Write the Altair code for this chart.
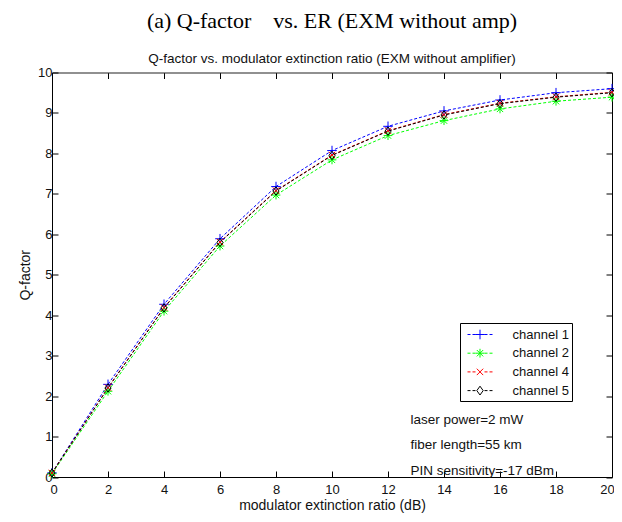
import altair as alt
import pandas as pd

# ---- data ----
er_db = [0, 2, 4, 6, 8, 10, 12, 14, 16, 18, 20]
channels = ["channel 1", "channel 2", "channel 4", "channel 5"]
q_ch1 = [0.10, 2.29, 4.27, 5.89, 7.18, 8.07, 8.67, 9.05, 9.32, 9.50, 9.60]
q_ch2 = [0.08, 2.12, 4.10, 5.71, 6.97, 7.84, 8.44, 8.81, 9.10, 9.29, 9.39]
q_ch4 = [0.10, 2.21, 4.19, 5.81, 7.08, 7.96, 8.56, 8.96, 9.24, 9.40, 9.51]
q_ch5 = [0.10, 2.20, 4.18, 5.80, 7.07, 7.95, 8.55, 8.95, 9.23, 9.39, 9.50]
x_ticks = [0, 2, 4, 6, 8, 10, 12, 14, 16, 18, 20]
y_ticks = [0, 1, 2, 3, 4, 5, 6, 7, 8, 9, 10]
ann_text = ["laser power=2 mW", "fiber length=55 km", "PIN sensitivity=-17 dBm"]
ann_x = [12.8, 12.8, 12.8]
ann_y = [1.40, 0.78, 0.14]

colors = ["#0000ff", "#00ff00", "#ff0000", "#000000"]

rows = []
for name, vals in zip(channels, [q_ch1, q_ch2, q_ch4, q_ch5]):
    for xv, yv in zip(er_db, vals):
        rows.append({"er": xv, "q": yv, "channel": name})
df = pd.DataFrame(rows)
ann = pd.DataFrame({"x": ann_x, "y": ann_y, "t": ann_text})

# ---- marker paths (style) ----
def plus(h):
    return f"M{-h:.3f},0H{h:.3f}M0,{-h:.3f}V{h:.3f}"

def cross(h):
    return f"M{-h:.3f},{-h:.3f}L{h:.3f},{h:.3f}M{-h:.3f},{h:.3f}L{h:.3f},{-h:.3f}"

def star(h):
    return plus(h) + cross(h * 0.72)

def diamond(h):
    w = 0.72 * h
    return f"M0,{-h:.3f}L{w:.3f},0L0,{h:.3f}L{-w:.3f},0Z"

# points: size 64 -> 4 px per unit
pt_paths = [plus(1.2), star(1.1), cross(0.8), diamond(1.05)]

# legend symbols: size 256 -> 8 px per unit; dashed line + marker
def dashes():
    segs = [(-12.5, -9.5), (-7.5, -4.5), (4.5, 7.5), (9.5, 12.5)]
    return "".join(f"M{a/8:.4f},0H{b/8:.4f}" for a, b in segs)

lg_paths = [dashes() + plus(0.6), dashes() + star(0.55), dashes() + cross(0.4), dashes() + diamond(0.55)]

FONT = "Liberation Sans"
TXT = "#111111"

xs = alt.Scale(domain=[0, 20], nice=False, zero=False)
ys = alt.Scale(domain=[0, 10], nice=False, zero=False)
cs = alt.Scale(domain=channels, range=colors)

inward = alt.ExprRef(expr="-6")

x_bottom = alt.Axis(values=x_ticks, title="modulator extinction ratio (dB)", grid=False,
                    tickSize=inward, tickColor="black", domainColor="black",
                    labelFont=FONT, labelFontSize=13, labelColor=TXT, labelFlush=False,
                    labelOverlap=False, labelPadding=12,
                    labelOffset=alt.ExprRef(expr="datum.value == 20 ? -5 : (datum.value == 0 ? 1.5 : 0)"),
                    titleFont=FONT, titleFontSize=14,
                    titleFontWeight="normal", titleColor=TXT, titlePadding=2)
y_left = alt.Axis(values=y_ticks, title="Q-factor", grid=False,
                  tickSize=inward, tickColor="black", domainColor="black",
                  labelFont=FONT, labelFontSize=13, labelColor=TXT, labelPadding=6,
                  labelOverlap=False, titleFont=FONT, titleFontSize=14,
                  titleFontWeight="normal", titleColor=TXT, titlePadding=5)
x_top = alt.Axis(values=x_ticks, orient="top", labels=False, title=None, grid=False,
                 tickSize=inward, tickColor="black", domainColor="#333333")
y_right = alt.Axis(values=y_ticks, orient="right", labels=False, title=None, grid=False,
                   tickSize=inward, tickColor="black", domainColor="black")

base = alt.Chart(df)

lines = base.mark_line(strokeDash=[3, 2], strokeWidth=1).encode(
    x=alt.X("er:Q", scale=xs, axis=x_bottom),
    y=alt.Y("q:Q", scale=ys, axis=y_left),
    color=alt.Color("channel:N", scale=cs, legend=None),
    detail="channel:N",
)

points = base.mark_point(filled=False, strokeWidth=1, size=64, opacity=1).encode(
    x=alt.X("er:Q", scale=xs, axis=x_top),
    y=alt.Y("q:Q", scale=ys, axis=y_right),
    color=alt.Color("channel:N", scale=cs, legend=None),
    shape=alt.Shape("channel:N", scale=alt.Scale(domain=channels, range=pt_paths), legend=None),
)

legend = alt.Legend(orient="none", legendX=408, legendY=250.5, title=None,
                    strokeColor="black", fillColor="white", padding=3,
                    symbolOffset=8.5, labelOffset=24, rowPadding=2.7,
                    labelFont=FONT, labelFontSize=13, labelColor=TXT,
                    symbolStrokeWidth=1, symbolSize=256,
                    symbolOpacity=1, symbolFillColor="transparent",
                    symbolStrokeColor=alt.ExprRef(expr="scale('color', datum.value)"),
                    labelExpr="datum.label + '\u00a0\u00a0\u00a0'")

legend_layer = base.mark_point(filled=False, strokeWidth=1, size=256).encode(
    shape=alt.Shape("channel:N", scale=alt.Scale(domain=channels, range=lg_paths), legend=legend),
).transform_filter("false")

notes = alt.Chart(ann).mark_text(align="left", baseline="middle", font=FONT,
                                  fontSize=13.5, color=TXT).encode(
    x=alt.X("x:Q", scale=xs, axis=None),
    y=alt.Y("y:Q", scale=ys, axis=None),
    text="t:N",
)

chart = alt.layer(lines, points, legend_layer, notes).resolve_scale(
    shape="independent"
).resolve_axis(
    x="independent", y="independent"
).properties(
    width=560, height=404.5,
    autosize=alt.AutoSizeParams(type="none"),
    padding={"left": 44, "top": 64.5, "right": 2, "bottom": 37},
    title=alt.TitleParams(
        text="(a) Q-factor\u00a0\u00a0\u00a0 vs. ER (EXM without amp)",
        subtitle="Q-factor vs. modulator extinction ratio (EXM without amplifier)",
        font="Liberation Serif", fontSize=22, fontWeight="normal", color="black",
        subtitleFont=FONT, subtitleFontSize=13.5, subtitleColor=TXT,
        subtitlePadding=19, offset=0, anchor="middle", frame="group",
    ),
).configure_view(stroke=None).configure(background="white")

chart.save("out.html", embed_options={"renderer": "svg", "actions": False})
